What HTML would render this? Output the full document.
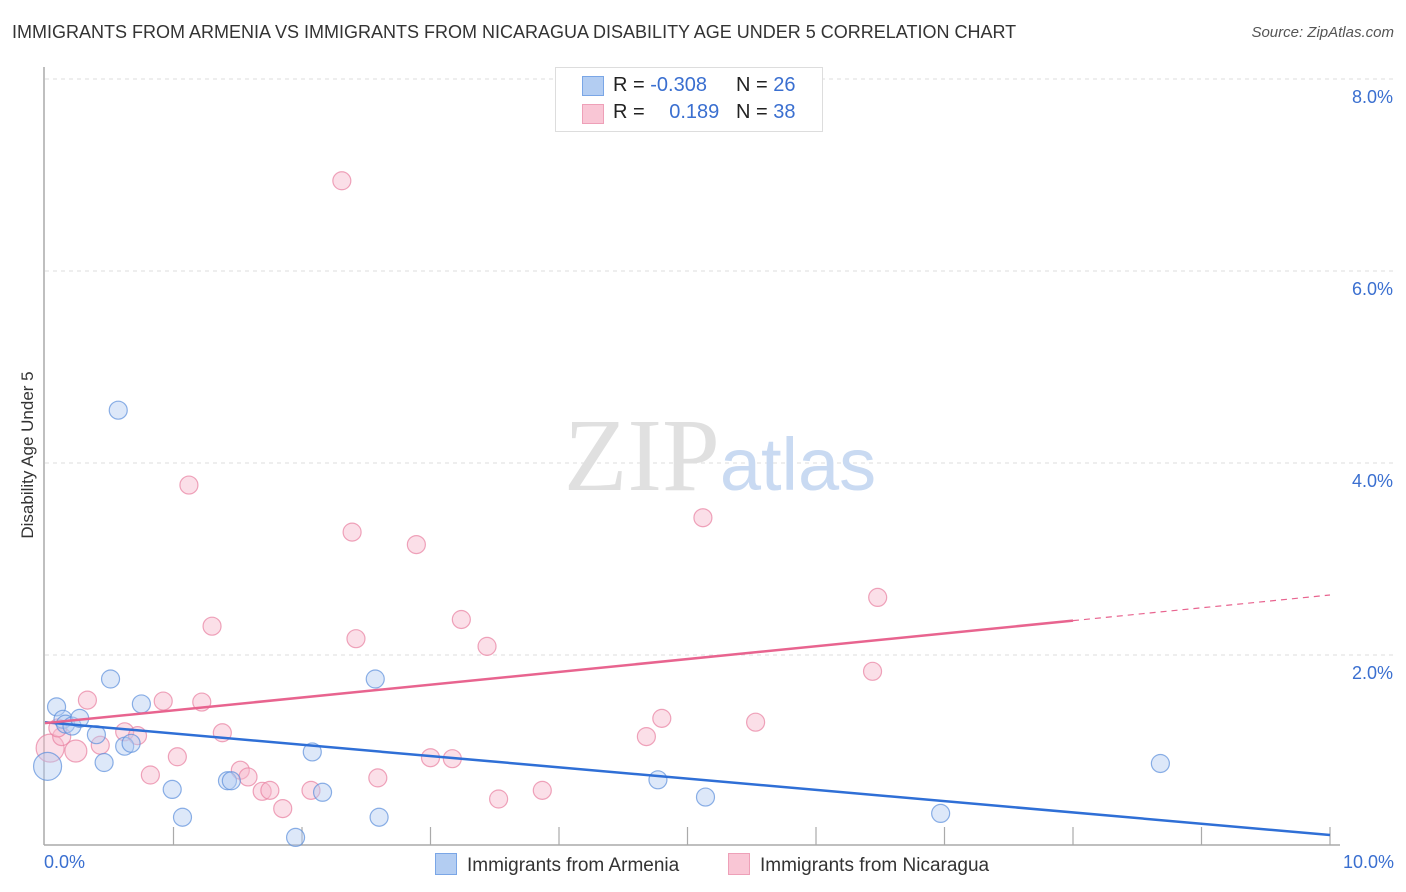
<!DOCTYPE html>
<html><head><meta charset="utf-8"><style>
body{margin:0;background:#fff;font-family:"Liberation Sans",sans-serif;}
#wrap{position:relative;width:1406px;height:892px;overflow:hidden;}
</style></head><body>
<div id="wrap">
<div style="position:absolute;left:12px;top:22px;font-size:18px;color:#333;">IMMIGRANTS FROM ARMENIA VS IMMIGRANTS FROM NICARAGUA DISABILITY AGE UNDER 5 CORRELATION CHART</div>
<div style="position:absolute;right:12px;top:24px;font-size:15px;color:#555;font-style:italic;">Source: ZipAtlas.com</div>
<svg id="svg" width="1406" height="892" style="position:absolute;left:0;top:0"></svg>
</div>
<script>
const xTicks=[0,1,2,3,4,5,6,7,8,9,10];
const yTicks=[2,4,6,8];
const yTickLabels=["2.0%","4.0%","6.0%","8.0%"];
const armeniaX=[0.02,0.09,0.14,0.16,0.21,0.27,0.40,0.46,0.51,0.57,0.62,0.67,0.75,0.99,1.07,1.42,1.45,1.95,2.08,2.16,2.57,2.60,4.77,5.14,6.97,8.68];
const armeniaY=[0.84,1.46,1.33,1.28,1.26,1.34,1.17,0.88,1.75,4.55,1.05,1.08,1.49,0.60,0.31,0.69,0.69,0.10,0.99,0.57,1.75,0.31,0.70,0.52,0.35,0.87];
const armeniaR=[14,9,9,9,9,9,9,9,9,9,9,9,9,9,9,9,9,9,9,9,9,9,9,9,9,9];
const nicX=[0.04,0.13,0.24,0.33,0.43,0.62,0.72,0.82,0.92,1.03,1.12,1.22,1.30,1.38,1.52,1.58,1.69,1.75,1.85,2.07,2.31,2.39,2.42,2.59,2.89,3.00,3.17,3.24,3.44,3.53,3.87,4.68,4.80,5.12,5.53,6.44,6.48,0.10];
const nicY=[1.03,1.15,1.00,1.53,1.06,1.20,1.16,0.75,1.52,0.94,3.77,1.51,2.30,1.19,0.80,0.73,0.58,0.59,0.40,0.59,6.94,3.28,2.17,0.72,3.15,0.93,0.92,2.37,2.09,0.50,0.59,1.15,1.34,3.43,1.30,1.83,2.60,1.24];
const nicR=[14,9,11,9,9,9,9,9,9,9,9,9,9,9,9,9,9,9,9,9,9,9,9,9,9,9,9,9,9,9,9,9,9,9,9,9,9,9];
const armFit=[1.30,0.125];
const nicFit=[1.29,2.625];
const X0=45,X1=1330,Y0=847;
const sx=v=>X0+(X1-X0)*v/10;
const sy=v=>Y0-96*v;
const svg=document.getElementById('svg');
const NS='http://www.w3.org/2000/svg';
function mk(t,a){const e=document.createElementNS(NS,t);for(const k in a)e.setAttribute(k,a[k]);svg.appendChild(e);return e;}
yTicks.forEach((v,i)=>{
 const g=mk('line',{x1:45,x2:1393,y1:sy(v),y2:sy(v),stroke:'#ddd','stroke-dasharray':'4,4'});
 
 
 const t=mk('text',{x:1393,y:sy(v)+24,'text-anchor':'end','font-size':18,fill:'#3a6fd0','font-family':'Liberation Sans'});
 t.textContent=yTickLabels[i];
 
 
});
const wm=mk('text',{x:720,y:490,'text-anchor':'middle','font-size':104,fill:'#e0e0e0','font-family':'Liberation Serif'});
wm.innerHTML='ZIP<tspan fill="#c9daf2" font-family="Liberation Sans" font-size="74">atlas</tspan>';


const ya=mk('line',{x1:44,x2:44,y1:67,y2:845,stroke:'#aaa','stroke-width':1.5});


const xa=mk('line',{x1:44,x2:1340,y1:845,y2:845,stroke:'#aaa','stroke-width':1.5});


xTicks.forEach(v=>{
 if(v===0)return;
 const l=mk('line',{x1:sx(v),x2:sx(v),y1:827,y2:845,stroke:'#aaa','stroke-width':1.2});
 
 
});
function pts(xs,ys,rs,fill,stroke,name){
 xs.forEach((x,i)=>{
  const c=mk('circle',{cx:sx(x),cy:sy(ys[i]),r:rs[i],fill:fill,'fill-opacity':0.45,stroke:stroke,'stroke-opacity':0.7,'stroke-width':1.2});
  
  
 });
}
pts(nicX,nicY,nicR,'#f7b8cb','#e87fa0','nicaragua-point');
pts(armeniaX,armeniaY,armeniaR,'#b3cdf2','#5b8fdc','armenia-point');
const bl=mk('line',{x1:sx(0),y1:sy(armFit[0]),x2:sx(10),y2:sy(armFit[1]),stroke:'#2f6fd6','stroke-width':2.5});


const pm=nicFit[0]+(nicFit[1]-nicFit[0])*0.8;
const pl=mk('line',{x1:sx(0),y1:sy(nicFit[0]),x2:sx(8),y2:sy(pm),stroke:'#e8648f','stroke-width':2.5});


const pd=mk('line',{x1:sx(8),y1:sy(pm),x2:sx(10),y2:sy(nicFit[1]),stroke:'#e8648f','stroke-width':1.2,'stroke-dasharray':'6,5'});


</script>
<div style="position:absolute;left:44px;top:852px;font-size:18px;color:#3a6fd0;">0.0%</div>
<div style="position:absolute;right:12px;top:852px;font-size:18px;color:#3a6fd0;">10.0%</div>
<div style="position:absolute;left:28px;top:455px;transform:translate(-50%,-50%) rotate(-90deg);font-size:17px;color:#333;white-space:nowrap;">Disability Age Under 5</div>
<div style="position:absolute;left:555px;top:67px;width:266px;height:63px;border:1px solid #ddd;background:#fff;font-size:20px;color:#222;">
 <div style="position:absolute;left:26px;top:8px;width:20px;height:18px;background:#b3cdf2;border:1px solid #7aa6e6;"></div>
 <div style="position:absolute;left:57px;top:6px;">R = <span style="color:#3a6fd0">-0.308</span></div>
 <div style="position:absolute;left:180px;top:6px;">N = <span style="color:#3a6fd0">26</span></div>
 <div style="position:absolute;left:26px;top:36px;width:20px;height:18px;background:#f9c6d5;border:1px solid #eea0b8;"></div>
 <div style="position:absolute;left:57px;top:33px;">R = <span style="color:#3a6fd0;margin-left:19px">0.189</span></div>
 <div style="position:absolute;left:180px;top:33px;">N = <span style="color:#3a6fd0">38</span></div>
</div>
<div style="position:absolute;left:435px;top:853px;font-size:19px;color:#333;"><span style="display:inline-block;width:20px;height:20px;background:#b3cdf2;border:1px solid #7aa6e6;vertical-align:-4px;margin-right:10px"></span>Immigrants from Armenia</div>
<div style="position:absolute;left:728px;top:853px;font-size:19px;color:#333;"><span style="display:inline-block;width:20px;height:20px;background:#f9c6d5;border:1px solid #eea0b8;vertical-align:-4px;margin-right:10px"></span>Immigrants from Nicaragua</div>
</body></html>
